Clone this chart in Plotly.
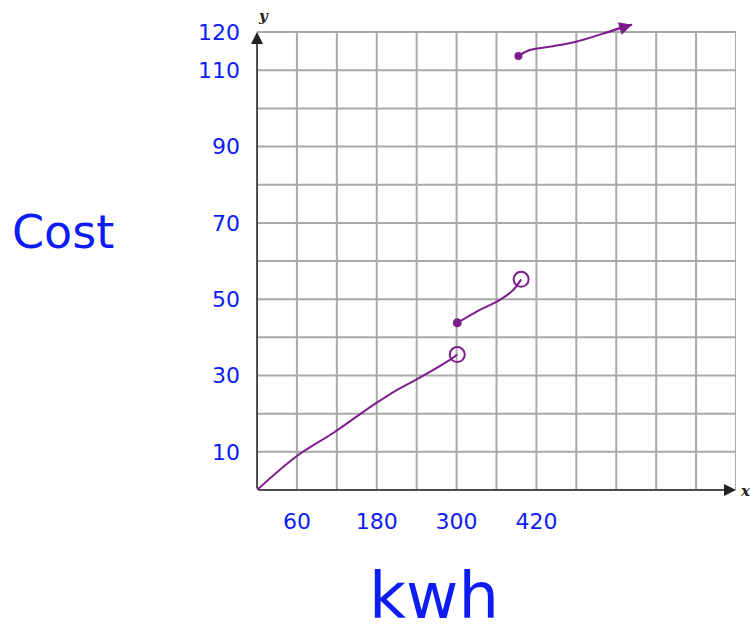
import plotly.graph_objects as go

# ---- data ----
seg1_kwh = [0, 60, 115, 175, 210, 240, 290, 301]
seg1_cost = [0, 8.9, 15.0, 22.3, 26.2, 29.0, 34.1, 35.5]

seg2_kwh = [301, 335, 365, 385, 397]
seg2_cost = [43.8, 47.2, 49.8, 52.4, 55.2]

seg3_kwh = [393, 410, 445, 478, 520, 555, 564]
seg3_cost = [113.7, 115.3, 116.3, 117.4, 119.6, 121.6, 121.9]

x_tick_vals = [60, 180, 300, 420]
x_tick_text = ["60", "180", "300", "420"]
y_tick_vals = [10, 30, 50, 70, 90, 110, 120]
y_tick_text = ["10", "30", "50", "70", "90", "110", "120"]

x_grid = list(range(0, 721, 60))
y_grid = list(range(0, 121, 10))

PURPLE = "#7d1d8c"
BLUE = "#0d1cf5"
GRID = "#a9a9a9"

fig = go.Figure()

fig.add_trace(go.Scatter(x=seg1_kwh, y=seg1_cost, mode="lines",
                         line=dict(color=PURPLE, width=2, shape="spline"),
                         hoverinfo="skip", showlegend=False))
fig.add_trace(go.Scatter(x=[seg1_kwh[-1]], y=[seg1_cost[-1]], mode="markers",
                         marker=dict(symbol="circle-open", size=15, color=PURPLE,
                                     line=dict(width=2, color=PURPLE)),
                         showlegend=False))
fig.add_trace(go.Scatter(x=seg2_kwh, y=seg2_cost, mode="lines",
                         line=dict(color=PURPLE, width=2, shape="spline"),
                         showlegend=False))
fig.add_trace(go.Scatter(x=[seg2_kwh[0]], y=[seg2_cost[0]], mode="markers",
                         marker=dict(symbol="circle", size=9, color=PURPLE),
                         showlegend=False))
fig.add_trace(go.Scatter(x=[seg2_kwh[-1]], y=[seg2_cost[-1]], mode="markers",
                         marker=dict(symbol="circle-open", size=15, color=PURPLE,
                                     line=dict(width=2, color=PURPLE)),
                         showlegend=False))
fig.add_trace(go.Scatter(x=seg3_kwh, y=seg3_cost, mode="lines",
                         line=dict(color=PURPLE, width=2, shape="spline"),
                         showlegend=False))
fig.add_trace(go.Scatter(x=[seg3_kwh[0]], y=[seg3_cost[0]], mode="markers",
                         marker=dict(symbol="circle", size=8, color=PURPLE),
                         showlegend=False))

shapes = []
for gx in x_grid:
    shapes.append(dict(type="line", xref="x", yref="y", x0=gx, x1=gx, y0=0, y1=120,
                       line=dict(color=GRID, width=2), layer="below"))
for gy in y_grid:
    shapes.append(dict(type="line", xref="x", yref="y", x0=0, x1=720, y0=gy, y1=gy,
                       line=dict(color=GRID, width=2), layer="below"))

W, H = 751, 637
L, R, T, B = 257, W - 736, 13, H - 490


def px(xp, yp):
    return (xp - L) / (W - L - R), (H - B - yp) / (H - T - B)


def label(text, xp, yp, size, color, family="DejaVu Sans"):
    x, y = px(xp, yp)
    return dict(text=text, x=x, y=y, xref="paper", yref="paper", showarrow=False,
                xanchor="center", yanchor="middle",
                font=dict(family=family, size=size, color=color))


annotations = [
    dict(x=0, y=120, ax=0, ay=0, xref="x", yref="y", axref="x", ayref="y", text="",
         showarrow=True, arrowhead=2, arrowsize=1.6, arrowwidth=1.5, arrowcolor="#222"),
    dict(x=720, y=0, ax=0, ay=0, xref="x", yref="y", axref="x", ayref="y", text="",
         showarrow=True, arrowhead=2, arrowsize=1.6, arrowwidth=1.5, arrowcolor="#222"),
    dict(x=seg3_kwh[-1], y=seg3_cost[-1], ax=seg3_kwh[-3], ay=seg3_cost[-3],
         xref="x", yref="y", axref="x", ayref="y", text="", showarrow=True,
         arrowhead=2, arrowsize=1.3, arrowwidth=2, arrowcolor=PURPLE),
    label("<b><i>x</i></b>", 745, 491, 15, "#222", "DejaVu Serif"),
    label("<b><i>y</i></b>", 263, 16, 15, "#222", "DejaVu Serif"),
    label("Cost", 63, 232, 46, BLUE),
    label("kwh", 434, 596, 64, BLUE),
]

fig.update_layout(
    width=W, height=H,
    margin=dict(l=L, r=R, t=T, b=B, autoexpand=False),
    plot_bgcolor="white", paper_bgcolor="white",
    shapes=shapes, annotations=annotations,
    xaxis=dict(range=[0, 720], tickvals=x_tick_vals, ticktext=x_tick_text,
               showgrid=False, zeroline=False, showline=False, ticks="",
               ticklabelstandoff=16,
               tickfont=dict(family="DejaVu Sans", size=22, color=BLUE)),
    yaxis=dict(range=[0, 125], tickvals=y_tick_vals, ticktext=y_tick_text,
               showgrid=False, zeroline=False, showline=False, ticks="",
               ticklabelstandoff=16,
               tickfont=dict(family="DejaVu Sans", size=22, color=BLUE)),
)

fig.write_html("out.html", config={"displayModeBar": False},
               post_script="document.body.style.margin='0';document.body.style.overflow='hidden';")
